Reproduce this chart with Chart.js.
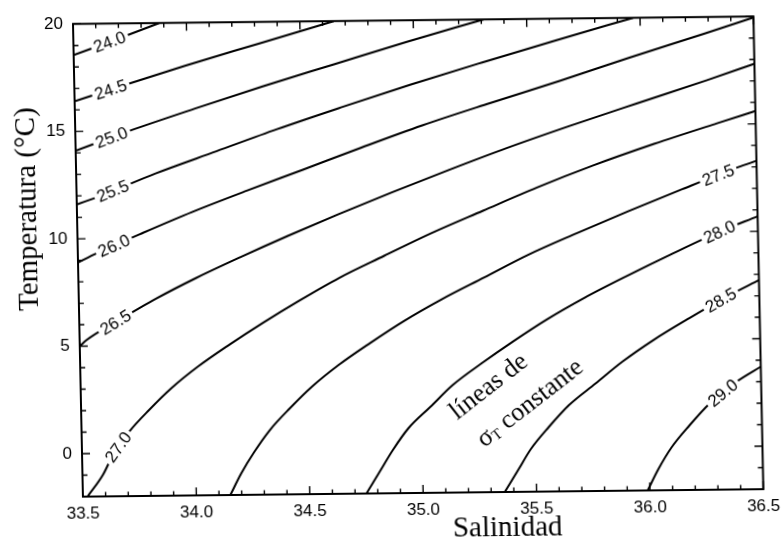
<!DOCTYPE html>
<html>
<head>
<meta charset="utf-8">
<script src="https://cdn.jsdelivr.net/npm/chart.js@4.4.1/dist/chart.umd.min.js"></script>
<style>
  html, body { margin: 0; padding: 0; background: #fff; }
  #wrap { width: 782px; height: 543px; overflow: hidden; background: #fff; }
  /* the scanned original is slightly skewed */
  #ts { display: block; transform-origin: 420px 258px; transform: matrix(1, -0.011, 0.021, 1, 0, 0); }
</style>
</head>
<body>
<div id="wrap"><canvas id="ts" width="782" height="543"></canvas></div>
<script>
// ============================================================
// Diagrama T-S — líneas de sigma-T constante
// ============================================================

const xTicks = [33.5, 34.0, 34.5, 35.0, 35.5, 36.0, 36.5];
const yTicks = [0, 5, 10, 15, 20];
const levels = ['24.0', '24.5', '25.0', '25.5', '26.0', '26.5', '27.0', '27.5', '28.0', '28.5', '29.0'];

// [salinidad, temperatura] read along each isoline
const iso240 = [[33.50,18.55],[33.70,19.30],[33.88,20.00]];
const iso245 = [[33.50,16.40],[33.68,17.00],[33.99,18.00],[34.32,19.00],[34.65,20.00]];
const iso250 = [[33.50,14.10],[33.74,15.00],[34.03,16.00],[34.33,17.00],[34.65,18.00],[34.97,19.00],[35.31,20.00]];
const iso255 = [[33.50,11.60],[33.61,12.00],[33.85,13.00],[34.12,14.00],[34.39,15.00],[34.68,16.00],[34.98,17.00],[35.30,18.00],[35.63,19.00],[35.97,20.00]];
const iso260 = [[33.50,8.90],[33.58,9.30],[33.79,10.25],[34.01,11.20],[34.25,12.15],[34.50,13.10],[34.76,14.10],[35.03,15.10],[35.33,16.10],[35.64,17.10],[35.95,18.15],[36.28,19.22],[36.50,19.95]];
const iso265 = [[33.50,5.00],[33.53,5.28],[33.68,6.22],[33.84,7.17],[34.02,8.12],[34.22,9.08],[34.43,10.04],[34.65,11.00],[34.89,12.00],[35.14,13.00],[35.40,14.00],[35.68,15.00],[35.98,16.02],[36.29,17.06],[36.50,17.80]];
const iso270 = [[33.52,-2.00],[33.59,-1.00],[33.64,0.00],[33.71,1.00],[33.80,2.00],[33.90,3.00],[34.02,4.00],[34.16,5.00],[34.31,6.00],[34.47,7.00],[34.65,8.05],[34.85,9.05],[35.06,10.08],[35.29,11.10],[35.53,12.15],[35.78,13.15],[36.05,14.12],[36.33,15.05],[36.50,15.60]];
const iso275 = [[34.15,-2.00],[34.20,-1.00],[34.26,0.00],[34.33,1.00],[34.42,2.00],[34.52,3.00],[34.64,4.00],[34.78,5.00],[34.93,6.00],[35.10,7.00],[35.29,8.00],[35.48,9.00],[35.70,10.00],[35.93,11.00],[36.17,12.00],[36.42,13.00],[36.50,13.28]];
const iso280 = [[34.75,-2.00],[34.81,-1.00],[34.87,0.00],[34.94,1.00],[35.04,2.00],[35.14,3.00],[35.27,4.00],[35.41,5.00],[35.56,6.00],[35.73,7.00],[35.92,8.00],[36.12,9.00],[36.33,10.00],[36.50,10.70]];
const iso285 = [[35.36,-2.00],[35.42,-1.00],[35.48,0.00],[35.56,1.00],[35.65,2.00],[35.77,3.00],[35.89,4.00],[36.03,5.00],[36.19,6.00],[36.36,7.00],[36.50,7.73]];
const iso290 = [[35.99,-2.00],[36.04,-1.00],[36.10,0.00],[36.18,1.00],[36.27,2.00],[36.39,3.00],[36.50,3.70]];

const isolines = [iso240, iso245, iso250, iso255, iso260, iso265, iso270, iso275, iso280, iso285, iso290];

const SANS  = '"Liberation Sans", Arial, sans-serif';
const SERIF = '"Liberation Serif", "Times New Roman", serif';
const INK   = '#000';

// where the inline labels sit (salinity along the line)
const LABEL_LEFT = 33.66, LABEL_RIGHT = 36.33;

function rotText(ctx, px, py, ang, fn) {
  ctx.save();
  ctx.translate(px, py);
  ctx.rotate(ang);
  fn(ctx);
  ctx.restore();
}

const frameAndLabels = {
  id: 'frameAndLabels',
  afterDatasetsDraw(chart) {
    const { ctx, chartArea: a, scales: { x, y } } = chart;
    ctx.save();

    // — contour labels, cut into the lines —
    ctx.font = '17px ' + SANS;
    ctx.textAlign = 'center';
    ctx.textBaseline = 'middle';
    chart.data.datasets.forEach((ds, i) => {
      const s = i < 7 ? LABEL_LEFT : LABEL_RIGHT;
      const pts = ds.data;
      let k = pts.findIndex(p => p.x >= s);
      if (k < 1) k = 1;
      const p0 = pts[k - 1], p1 = pts[k];
      const f = (s - p0.x) / (p1.x - p0.x);
      const t = p0.y + f * (p1.y - p0.y);
      const px = x.getPixelForValue(s), py = y.getPixelForValue(t);
      const ang = Math.atan2(y.getPixelForValue(p1.y) - y.getPixelForValue(p0.y),
                             x.getPixelForValue(p1.x) - x.getPixelForValue(p0.x));
      const w = ctx.measureText(levels[i]).width;
      rotText(ctx, px, py, ang, c => {
        c.fillStyle = '#fff';
        c.fillRect(-w / 2 - 3, -8, w + 6, 16);
        c.fillStyle = INK;
        c.fillText(levels[i], 0, 1);
      });
    });

    // — annotation —
    const ann = -37 * Math.PI / 180;
    ctx.fillStyle = INK;
    ctx.font = '26px ' + SERIF;
    rotText(ctx, x.getPixelForValue(35.30), y.getPixelForValue(2.90), ann, c => {
      c.fillText('líneas de', 0, 0);
    });
    rotText(ctx, x.getPixelForValue(35.48), y.getPixelForValue(2.10), ann, c => {
      c.textAlign = 'left';
      c.font = '26px ' + SERIF;
      const w1 = c.measureText('σ').width;
      const w3 = c.measureText(' constante').width;
      c.font = '15px ' + SERIF;
      const w2 = c.measureText('T').width;
      const x0 = -(w1 + w2 + w3) / 2;
      c.font = '26px ' + SERIF;
      c.fillText('σ', x0, 0);
      c.font = '15px ' + SERIF;
      c.fillText('T', x0 + w1, 5);
      c.font = '26px ' + SERIF;
      c.fillText(' constante', x0 + w1 + w2, 0);
    });

    // — ticks pointing inward on all four sides —
    ctx.strokeStyle = INK;
    ctx.lineWidth = 1.4;
    ctx.beginPath();
    for (let k = 0; k <= 30; k++) {
      const px = x.getPixelForValue(33.5 + k * 0.1);
      const L = k % 5 === 0 ? 8 : 4.5;
      ctx.moveTo(px, a.bottom); ctx.lineTo(px, a.bottom - L);
      ctx.moveTo(px, a.top);    ctx.lineTo(px, a.top + L);
    }
    for (let v = -2; v <= 20; v++) {
      const py = y.getPixelForValue(v);
      const L = v % 5 === 0 ? 8 : 5;
      ctx.moveTo(a.left, py);  ctx.lineTo(a.left + L, py);
      ctx.moveTo(a.right, py); ctx.lineTo(a.right - L, py);
    }
    ctx.stroke();
    ctx.lineWidth = 2;
    ctx.strokeRect(a.left, a.top, a.right - a.left, a.bottom - a.top);

    // — axis titles —
    ctx.fillStyle = INK;
    ctx.font = '29px ' + SERIF;
    ctx.textAlign = 'center';
    ctx.textBaseline = 'middle';
    ctx.fillText('Salinidad', 502, 529);
    rotText(ctx, 29, 205, -Math.PI / 2, c => c.fillText('Temperatura (°C)', 0, 0));

    ctx.restore();
  }
};

new Chart(document.getElementById('ts'), {
  type: 'scatter',
  data: {
    datasets: isolines.map((pts, i) => ({
      label: levels[i],
      data: pts.map(([s, t]) => ({ x: s, y: t })),
      showLine: true,
      borderColor: INK,
      borderWidth: 2,
      pointRadius: 0,
      cubicInterpolationMode: 'monotone',
    })),
  },
  options: {
    responsive: false,
    animation: false,
    events: [],
    layout: { padding: { top: 16.5, right: 22, left: 0, bottom: 0 } },
    plugins: { legend: { display: false }, tooltip: { enabled: false } },
    scales: {
      x: {
        type: 'linear', min: 33.5, max: 36.5,
        afterBuildTicks: s => { s.ticks = xTicks.map(v => ({ value: v })); },
        afterFit: s => { s.height = 50; },
        grid: { display: false, drawTicks: false },
        border: { display: false },
        ticks: { color: INK, padding: 7, maxRotation: 0, autoSkip: false,
                 font: { family: SANS, size: 17 }, callback: v => v.toFixed(1) },
      },
      y: {
        type: 'linear', min: -2, max: 20,
        afterBuildTicks: s => { s.ticks = yTicks.map(v => ({ value: v })); },
        afterFit: s => { s.width = 78; },
        grid: { display: false, drawTicks: false },
        border: { display: false },
        ticks: { color: INK, padding: 10, autoSkip: false,
                 font: { family: SANS, size: 17 }, callback: v => String(v) },
      },
    },
  },
  plugins: [frameAndLabels],
});
</script>
</body>
</html>
